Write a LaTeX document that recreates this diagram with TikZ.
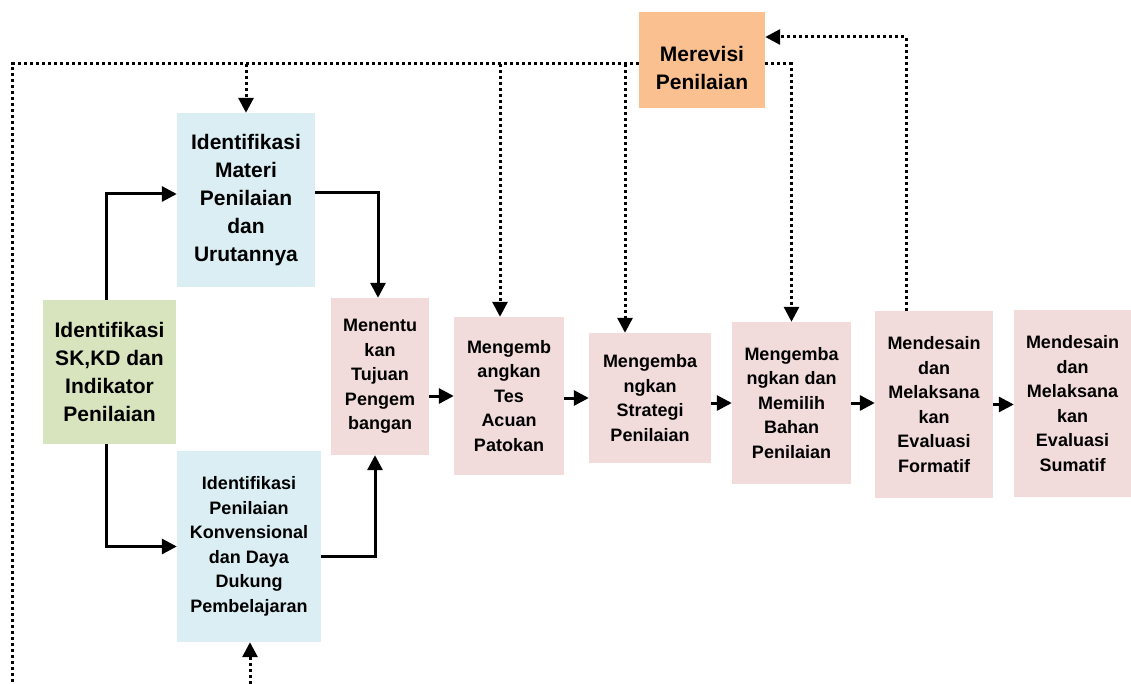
\documentclass[tikz,border=0pt]{standalone}
\usepackage{fontspec}
\setmainfont{Liberation Sans}
\usetikzlibrary{arrows.meta,calc}
\definecolor{blueb}{HTML}{DAEEF3}
\definecolor{greenb}{HTML}{D7E4BD}
\definecolor{pinkb}{HTML}{F2DCDB}
\definecolor{orangeb}{HTML}{FAC090}
\tikzset{
  box/.style={inner sep=0pt, align=center, font=\bfseries\fontsize{18}{24.5}\selectfont},
  bigbox/.style={inner sep=0pt, align=center, font=\bfseries\fontsize{21}{28}\selectfont},
  arr/.style={line width=3pt, -{Triangle[length=15pt,width=15pt]}},
  dotline/.style={line width=3pt, dash pattern=on 3pt off 3pt},
  dotarr/.style={dotline, -{Triangle[length=15pt,width=15pt]}}
}
\begin{document}
\begin{tikzpicture}[x=1pt,y=-1pt]
\useasboundingbox (0,0) rectangle (1131,684);
% nodes
\node[fill=orangeb, inner sep=0pt, minimum width=126pt, minimum height=96pt] (rev) at (702,60) {};
\node[bigbox] (revt) at (702,68) {Merevisi\\Penilaian};
\node[bigbox, fill=blueb, minimum width=138pt, minimum height=174pt] (mat) at (246,200) {Identifikasi\\Materi\\Penilaian\\dan\\Urutannya};
\node[bigbox, fill=greenb, minimum width=133pt, minimum height=144pt] (sk) at (109.5,372) {Identifikasi\\SK,KD dan\\Indikator\\Penilaian};
\node[box, fill=blueb, minimum width=144pt, minimum height=191pt] (kon) at (249,546.5) {Identifikasi\\Penilaian\\Konvensional\\dan Daya\\Dukung\\Pembelajaran};
\node[box, fill=pinkb, minimum width=98pt, minimum height=157pt] (men) at (380,376.5) {Menentu\\kan\\Tujuan\\Pengem\\bangan};
\node[box, fill=pinkb, minimum width=110pt, minimum height=158pt] (tes) at (509,396) {Mengemb\\angkan\\Tes\\Acuan\\Patokan};
\node[box, fill=pinkb, minimum width=122pt, minimum height=130pt] (str) at (650,398) {Mengemba\\ngkan\\Strategi\\Penilaian};
\node[box, fill=pinkb, minimum width=119pt, minimum height=162pt] (pil) at (791.5,403) {Mengemba\\ngkan dan\\Memilih\\Bahan\\Penilaian};
\node[box, fill=pinkb, minimum width=118pt, minimum height=187pt] (for) at (934,404.5) {Mendesain\\dan\\Melaksana\\kan\\Evaluasi\\Formatif};
\node[box, fill=pinkb, minimum width=117pt, minimum height=187pt] (sum) at (1072.5,403.5) {Mendesain\\dan\\Melaksana\\kan\\Evaluasi\\Sumatif};
% coordinates
\coordinate (tl) at (12,64);
\coordinate (bl) at (12,684);
\coordinate (b2) at (500,64);
\coordinate (b3) at (625,64);
\coordinate (fb) at (906,37);
\coordinate (bb) at (250,684);
% dotted connectors
\draw[dotline] (rev.west |- tl) -- (tl) -- (bl);
\draw[dotarr] (mat.north |- tl) -- (mat.north);
\draw[dotarr] (b2) -- (b2 |- tes.north);
\draw[dotarr] (b3) -- (b3 |- str.north);
\draw[dotarr] (rev.east |- tl) -| (pil.north);
\draw[dotarr] (fb |- for.north) -- (fb) -- (fb -| rev.east);
\draw[dotarr] (bb) -- (bb |- kon.south);
% solid connectors
\draw[arr] ($(sk.north)+(-3,0)$) |- ($(mat.west)+(0,-6)$);
\draw[arr] ($(sk.south)+(-3,0)$) |- (kon.west);
\draw[arr] ($(mat.east)+(0,-7)$) -| ($(men.north)+(-2,0)$);
\draw[arr] ($(kon.east)+(0,10)$) -| ($(men.south)+(-5,0)$);
\draw[arr] (men.east |- tes) -- (tes.west);
\draw[arr] (tes.east |- str) -- (str.west);
\draw[arr] (str.east |- pil) -- (pil.west);
\draw[arr] (pil.east) -- (pil.east -| for.west);
\draw[arr] (for.east) -- (for.east -| sum.west);
\end{tikzpicture}
\end{document}
